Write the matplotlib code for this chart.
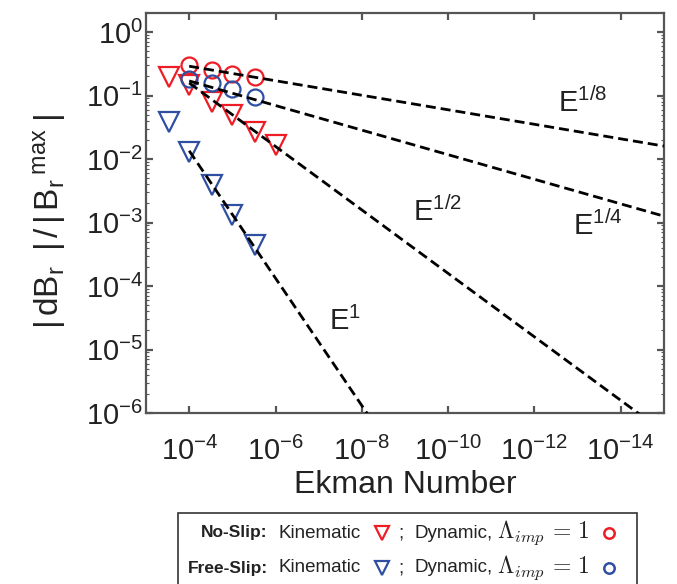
import numpy as np
import matplotlib
matplotlib.use("Agg")
import matplotlib.pyplot as plt
from matplotlib.ticker import FixedLocator, LogLocator, NullLocator, NullFormatter
from matplotlib.patches import Rectangle

plt.rcParams['font.family'] = ['Liberation Sans', 'DejaVu Sans']
plt.rcParams['mathtext.fontset'] = 'custom'
plt.rcParams['mathtext.rm'] = 'Liberation Sans'
plt.rcParams['mathtext.it'] = 'Liberation Sans'
plt.rcParams['mathtext.bf'] = 'Liberation Sans:bold'
plt.rcParams['axes.unicode_minus'] = False

# data
E_kin = [3e-4, 1e-4, 3e-5, 1e-5, 3e-6, 1e-6]
noslip_kin = [0.195, 0.147, 0.079, 0.049, 0.027, 0.0166]
E_kin_fs = [3e-4, 1e-4, 3e-5, 1e-5, 3e-6]
freeslip_kin = [0.038, 0.0129, 0.0039, 0.0013, 0.00045]
E_dyn = [1e-4, 3e-5, 1e-5, 3e-6]
noslip_dyn = [0.30, 0.25, 0.22, 0.195]
freeslip_dyn = [0.18, 0.158, 0.127, 0.095]

# scaling lines (end points)
scale_E = [[1e-4, 1e-15], [1e-4, 1e-15], [1e-4, 1e-15], [1e-4, 1e-9]]
scale_val = [[0.29, 0.016], [0.17, 0.00126], [0.158, 5e-7], [0.0135, 1.3e-7]]
scale_lbl = ['E$^{1/8}$', 'E$^{1/4}$', 'E$^{1/2}$', 'E$^{1}$']
lbl_E = [7.6e-14, 3.4e-14, 1.8e-10, 2.5e-8]
lbl_val = [0.076, 8.8e-4, 1.5e-3, 2.8e-5]

xticks = [1e-4, 1e-6, 1e-8, 1e-10, 1e-12, 1e-14]

red = '#ee1c25'
blue = '#2f4fa2'
grey = '#555555'

fig = plt.figure(figsize=(6.77, 5.84), dpi=100)
ax = fig.add_axes([0.2157, 0.2928, 0.765, 0.685])

ax.plot(E_kin, noslip_kin, 'v', ms=15, mfc='none', mec=red, mew=1.6, zorder=3)
ax.plot(E_kin_fs, freeslip_kin, 'v', ms=15, mfc='none', mec=blue, mew=1.6, zorder=3)
ax.plot(E_dyn, noslip_dyn, 'o', ms=11.5, mfc='none', mec=red, mew=1.6, zorder=3)
ax.plot(E_dyn, freeslip_dyn, 'o', ms=11.5, mfc='none', mec=blue, mew=1.6, zorder=3)

for xs, ys in zip(scale_E, scale_val):
    ax.plot(xs, ys, color='k', lw=2, dashes=(3.6, 1.8), zorder=4)
for s, x, y in zip(scale_lbl, lbl_E, lbl_val):
    ax.text(x, y, s, fontsize=21, ha='center', va='center', color='#222222')

ax.set_xscale('log')
ax.set_yscale('log')
ax.set_xlim(1e-3, 1e-15)
ax.set_ylim(1e-6, 2)

ax.xaxis.set_major_locator(FixedLocator(xticks))
ax.xaxis.set_minor_locator(NullLocator())
ax.yaxis.set_major_locator(LogLocator(base=10, numticks=12))
ax.yaxis.set_minor_locator(LogLocator(base=10, subs=np.arange(2, 10), numticks=12))
ax.yaxis.set_minor_formatter(NullFormatter())

for sp in ax.spines.values():
    sp.set_color(grey)
    sp.set_linewidth(1.6)
ax.tick_params(which='both', direction='in', top=True, right=True, color=grey,
               labelsize=21, labelcolor='#222222')
ax.tick_params(which='major', length=5, width=1.6)
ax.tick_params(which='minor', length=2.5, width=0.8)
ax.tick_params(axis='x', pad=17)
ax.tick_params(axis='y', pad=2)

ax.set_xlabel('Ekman Number', fontsize=23, color='#222222')
ax.xaxis.set_label_coords(0.5, -0.143)
ax.set_ylabel(r'$|\,dB_r\;\;|\,/\,|\,B_r\,{}^{max}\;|$', fontsize=24, color='#222222')
ax.yaxis.set_label_coords(-0.15, 0.48)

# legend box drawn by hand
fig.patches.append(Rectangle((178 / 677, -0.05), (637 - 178) / 677, 0.05 + 71 / 584,
                             transform=fig.transFigure, fill=False, ec='#333333', lw=1.2))
rows = [('No-Slip:', 201, red, 533), ('Free-Slip:', 188, blue, 568)]
for name, x0, col, ypx in rows:
    y = 1 - ypx / 584
    fig.text(x0 / 677, y, name, fontsize=12.5, fontweight='bold', va='center', color='#222222')
    fig.text(279 / 677, y, 'Kinematic', fontsize=13.5, va='center', color='#222222')
    fig.lines.append(plt.Line2D([382 / 677], [y], marker='v', ms=10, mfc='none', mec=col, mew=1.6,
                                transform=fig.transFigure))
    fig.text(398 / 677, y, ';', fontsize=13.5, va='center', color='#222222')
    fig.text(414 / 677, y, 'Dynamic,', fontsize=13.5, va='center', color='#222222')
    fig.text(497 / 677, y, r'$\Lambda_{imp}\,=\,1$', fontsize=17, va='center', color='#222222',
             math_fontfamily='cm')
    fig.lines.append(plt.Line2D([609 / 677], [y], marker='o', ms=7.5, mfc='none', mec=col, mew=1.8,
                                transform=fig.transFigure))

fig.savefig('out.png', dpi=100)
